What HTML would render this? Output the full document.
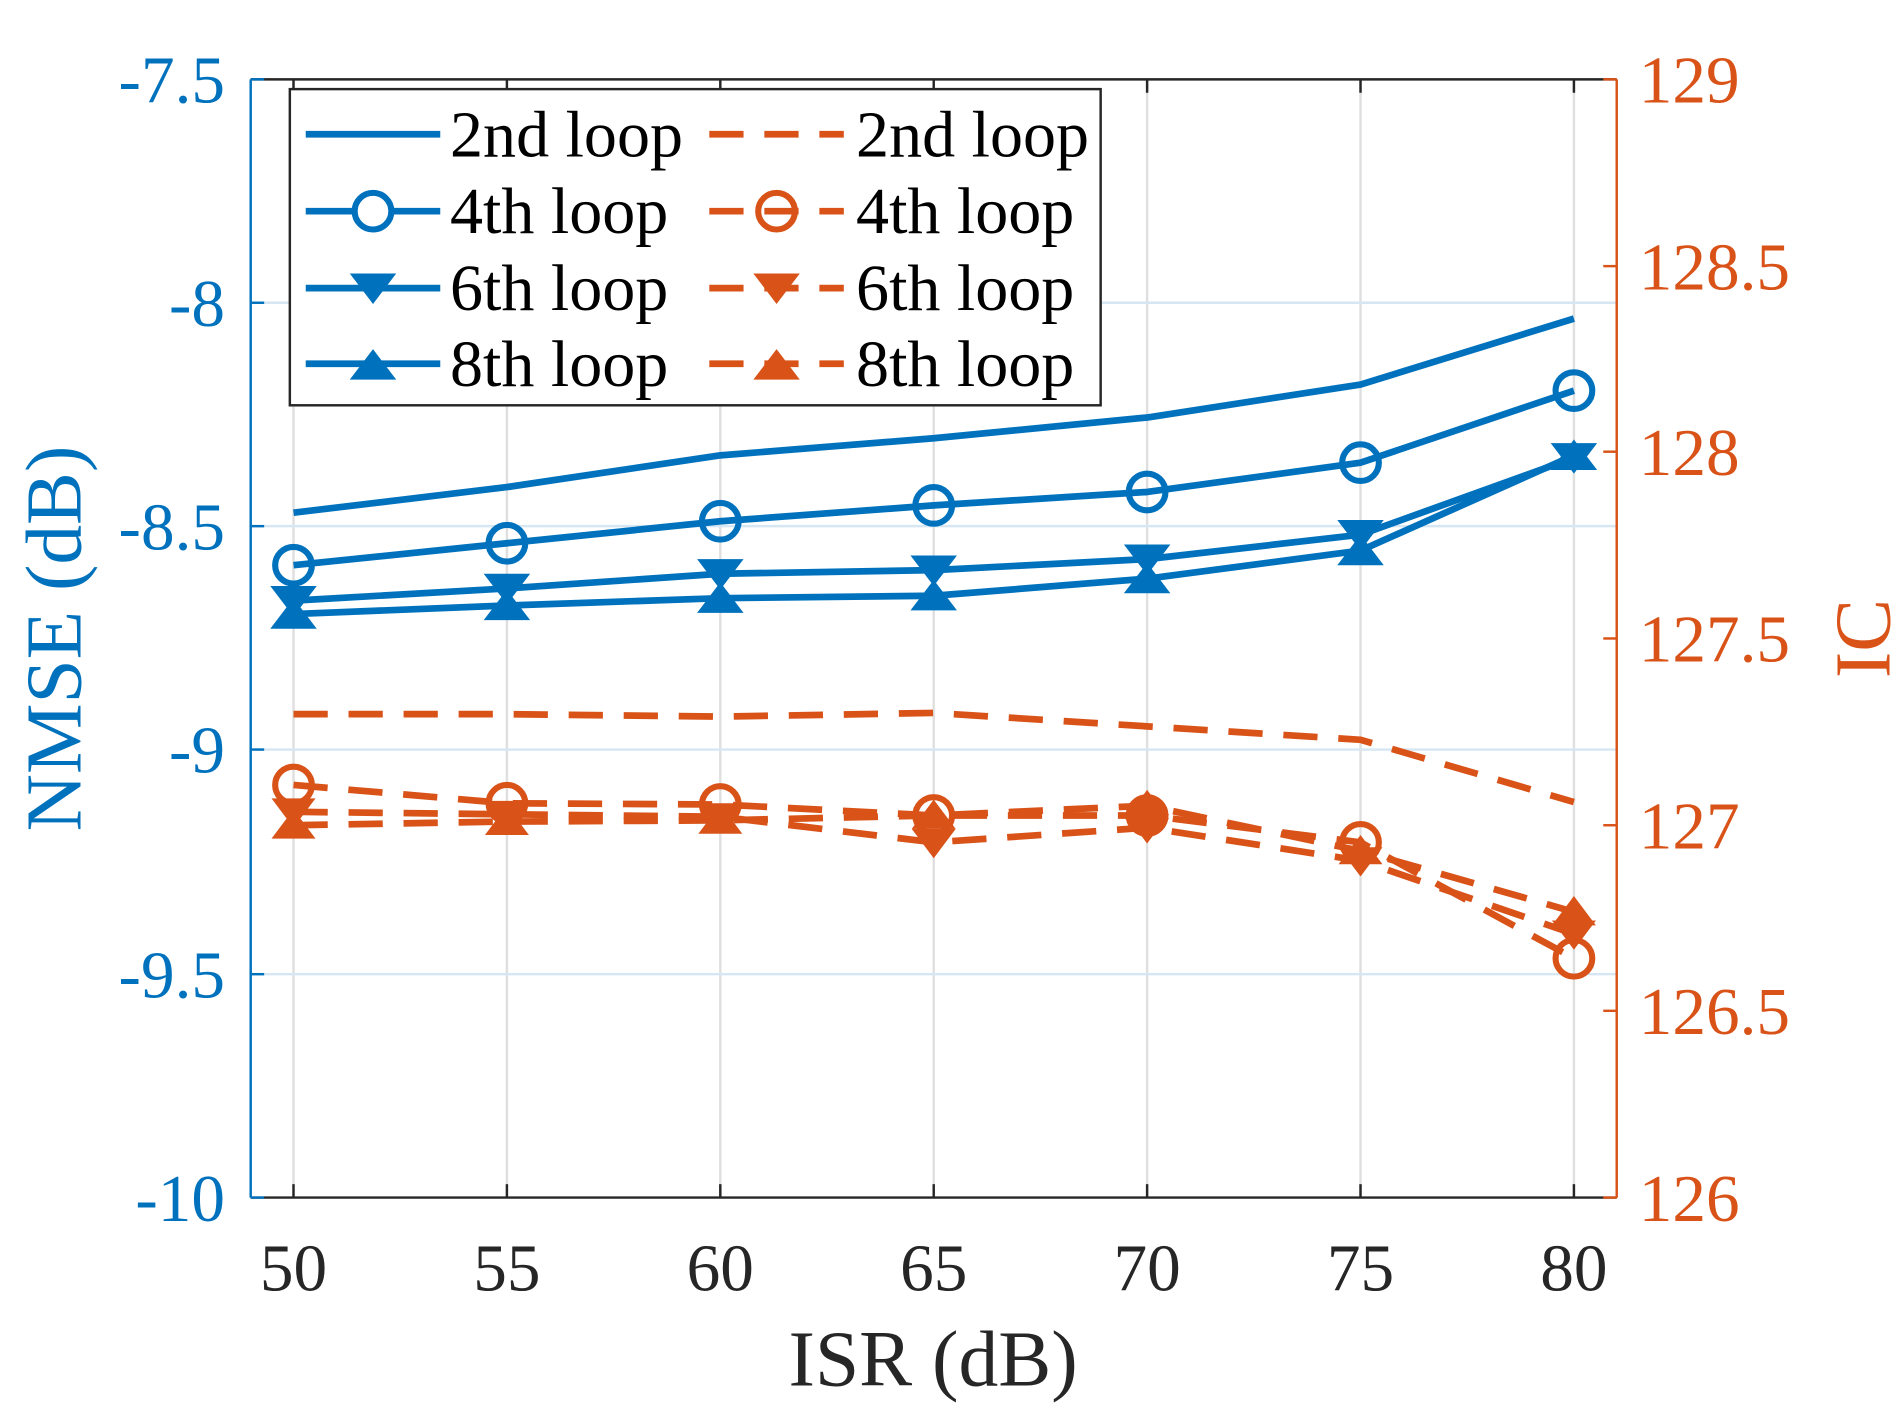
<!DOCTYPE html>
<html><head><meta charset="utf-8"><style>html,body{margin:0;padding:0;background:#fff}svg{display:block}</style></head><body>
<svg width="1898" height="1410" viewBox="0 0 1552 1155" preserveAspectRatio="none" xmlns="http://www.w3.org/2000/svg" font-family="Liberation Serif, serif">
<rect width="1552" height="1155" fill="#fff"/>
<!-- grid -->
<g stroke="#dfdfdf" stroke-width="2">
<line x1="240" y1="65" x2="240" y2="981"/><line x1="414.5" y1="65" x2="414.5" y2="981"/><line x1="589" y1="65" x2="589" y2="981"/><line x1="763.5" y1="65" x2="763.5" y2="981"/><line x1="938" y1="65" x2="938" y2="981"/><line x1="1112.5" y1="65" x2="1112.5" y2="981"/><line x1="1287" y1="65" x2="1287" y2="981"/>
</g>
<g stroke="#d6e6f2" stroke-width="2">
<line x1="205" y1="248" x2="1322" y2="248"/><line x1="205" y1="431" x2="1322" y2="431"/><line x1="205" y1="614" x2="1322" y2="614"/><line x1="205" y1="798" x2="1322" y2="798"/>
</g>
<!-- axes -->
<line x1="205" y1="65" x2="1322" y2="65" stroke="#262626" stroke-width="2"/>
<line x1="205" y1="981" x2="1322" y2="981" stroke="#262626" stroke-width="2"/>
<line x1="205" y1="65" x2="205" y2="981" stroke="#0072BD" stroke-width="2"/>
<line x1="1322" y1="65" x2="1322" y2="981" stroke="#D95319" stroke-width="2"/>
<g stroke="#262626" stroke-width="2">
<line x1="240" y1="981" x2="240" y2="970"/><line x1="414.5" y1="981" x2="414.5" y2="970"/><line x1="589" y1="981" x2="589" y2="970"/><line x1="763.5" y1="981" x2="763.5" y2="970"/><line x1="938" y1="981" x2="938" y2="970"/><line x1="1112.5" y1="981" x2="1112.5" y2="970"/><line x1="1287" y1="981" x2="1287" y2="970"/>
<line x1="240" y1="65" x2="240" y2="76"/><line x1="414.5" y1="65" x2="414.5" y2="76"/><line x1="589" y1="65" x2="589" y2="76"/><line x1="763.5" y1="65" x2="763.5" y2="76"/><line x1="938" y1="65" x2="938" y2="76"/><line x1="1112.5" y1="65" x2="1112.5" y2="76"/><line x1="1287" y1="65" x2="1287" y2="76"/>
</g>
<g stroke="#0072BD" stroke-width="2">
<line x1="205" y1="65" x2="216" y2="65"/><line x1="205" y1="248" x2="216" y2="248"/><line x1="205" y1="431" x2="216" y2="431"/><line x1="205" y1="614" x2="216" y2="614"/><line x1="205" y1="798" x2="216" y2="798"/><line x1="205" y1="981" x2="216" y2="981"/>
</g>
<g stroke="#D95319" stroke-width="2">
<line x1="1311" y1="65" x2="1322" y2="65"/><line x1="1311" y1="218" x2="1322" y2="218"/><line x1="1311" y1="370" x2="1322" y2="370"/><line x1="1311" y1="523" x2="1322" y2="523"/><line x1="1311" y1="676" x2="1322" y2="676"/><line x1="1311" y1="828" x2="1322" y2="828"/><line x1="1311" y1="981" x2="1322" y2="981"/>
</g>
<!-- tick labels -->
<g font-size="55" fill="#0072BD" text-anchor="end">
<text x="184" y="84">-7.5</text><text x="184" y="267">-8</text><text x="184" y="450">-8.5</text><text x="184" y="633">-9</text><text x="184" y="817">-9.5</text><text x="184" y="1000">-10</text>
</g>
<g font-size="55" fill="#D95319" text-anchor="start">
<text x="1340" y="84">129</text><text x="1340" y="237">128.5</text><text x="1340" y="389">128</text><text x="1340" y="542">127.5</text><text x="1340" y="695">127</text><text x="1340" y="847">126.5</text><text x="1340" y="1000">126</text>
</g>
<g font-size="55" fill="#262626" text-anchor="middle">
<text x="240" y="1057">50</text><text x="414.5" y="1057">55</text><text x="589" y="1057">60</text><text x="763.5" y="1057">65</text><text x="938" y="1057">70</text><text x="1112.5" y="1057">75</text><text x="1287" y="1057">80</text>
</g>
<text x="763" y="1135" font-size="65" fill="#262626" text-anchor="middle">ISR (dB)</text>
<text transform="translate(66,523) rotate(-90)" font-size="65" fill="#0072BD" text-anchor="middle">NMSE (dB)</text>
<text transform="translate(1545,523) rotate(-90)" font-size="65" fill="#D95319" text-anchor="middle">IC</text>
<!-- blue series -->
<g stroke="#0072BD" stroke-width="5.5" fill="none" stroke-linejoin="round">
<polyline points="240,420 414.5,399 589,373 763.5,359 938,342 1112.5,315 1287,261"/>
<polyline points="240,463 414.5,445 589,427 763.5,414 938,403 1112.5,379 1287,320"/>
<polyline points="240,492 414.5,482 589,470 763.5,467 938,458 1112.5,438 1287,375"/>
<polyline points="240,503 414.5,496 589,490 763.5,488 938,474 1112.5,451 1287,373"/>
</g>
<g stroke="#0072BD" stroke-width="5" fill="none">
<circle cx="240" cy="463" r="15"/><circle cx="414.5" cy="445" r="15"/><circle cx="589" cy="427" r="15"/><circle cx="763.5" cy="414" r="15"/><circle cx="938" cy="403" r="15"/><circle cx="1112.5" cy="379" r="15"/><circle cx="1287" cy="320" r="15"/>
</g>
<g fill="#0072BD">
<path d="M221,480h38l-19,25z M395.5,470h38l-19,25z M570,458h38l-19,25z M744.5,455h38l-19,25z M919,446h38l-19,25z M1093.5,426h38l-19,25z M1268,363h38l-19,25z"/>
<path d="M221,515h38l-19,-25z M395.5,508h38l-19,-25z M570,502h38l-19,-25z M744.5,500h38l-19,-25z M919,486h38l-19,-25z M1093.5,463h38l-19,-25z M1268,385h38l-19,-25z"/>
</g>
<!-- orange series -->
<g stroke="#D95319" stroke-width="5.5" fill="none" stroke-dasharray="28,17">
<polyline points="240,585 414.5,585 589,587 763.5,584 938,595 1112.5,606 1287,657"/>
<polyline points="240,643 414.5,658 589,659 763.5,668 938,668 1112.5,690 1287,785"/>
<polyline points="240,665 414.5,667 589,669 763.5,690 938,678 1112.5,705 1287,765"/>
<polyline points="240,676 414.5,673 589,672 763.5,668 938,660 1112.5,697 1287,747"/>
</g>
<g stroke="#D95319" stroke-width="5" fill="none">
<circle cx="240" cy="643" r="15"/><circle cx="414.5" cy="658" r="15"/><circle cx="589" cy="659" r="15"/><circle cx="763.5" cy="668" r="15"/><circle cx="938" cy="668" r="15"/><circle cx="1112.5" cy="690" r="15"/><circle cx="1287" cy="785" r="15"/>
</g>
<g fill="#D95319">
<path d="M222,654h36l-18,24z M396.5,656h36l-18,24z M571,658h36l-18,24z M745.5,679h36l-18,24z M920,667h36l-18,24z M1094.5,694h36l-18,24z M1269,754h36l-18,24z"/>
<path d="M222,687h36l-18,-24z M396.5,684h36l-18,-24z M571,683h36l-18,-24z M745.5,679h36l-18,-24z M920,671h36l-18,-24z M1094.5,708h36l-18,-24z M1269,758h36l-18,-24z"/>
</g>
<!-- legend -->
<rect x="237" y="73" width="663" height="259" fill="#fff" stroke="#262626" stroke-width="2"/>
<g stroke="#0072BD" stroke-width="5.5">
<line x1="250" y1="110" x2="360" y2="110"/><line x1="250" y1="173" x2="360" y2="173"/><line x1="250" y1="236" x2="360" y2="236"/><line x1="250" y1="298" x2="360" y2="298"/>
</g>
<circle cx="305" cy="173" r="15" stroke="#0072BD" stroke-width="5" fill="#fff"/>
<path d="M286,224h38l-19,25z M286,311h38l-19,-25z" fill="#0072BD"/>
<g stroke="#D95319" stroke-width="5.5" stroke-dasharray="28,17">
<line x1="580" y1="110" x2="690" y2="110"/><line x1="580" y1="173" x2="690" y2="173"/><line x1="580" y1="236" x2="690" y2="236"/><line x1="580" y1="298" x2="690" y2="298"/>
</g>
<circle cx="635" cy="173" r="15" stroke="#D95319" stroke-width="5" fill="none"/>
<path d="M616,224h38l-19,25z M616,311h38l-19,-25z" fill="#D95319"/>
<g font-size="54" fill="#000">
<text x="368" y="128">2nd loop</text><text x="368" y="191">4th loop</text><text x="368" y="254">6th loop</text><text x="368" y="316">8th loop</text>
<text x="700" y="128">2nd loop</text><text x="700" y="191">4th loop</text><text x="700" y="254">6th loop</text><text x="700" y="316">8th loop</text>
</g>
</svg>
</body></html>
